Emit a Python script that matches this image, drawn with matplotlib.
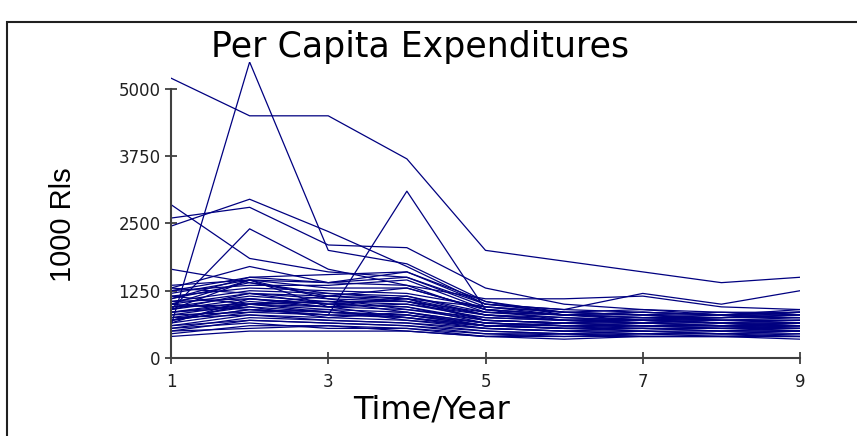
import matplotlib
matplotlib.use("Agg")
import matplotlib.pyplot as plt
from matplotlib.patches import Rectangle

years = [1, 2, 3, 4, 5, 6, 7, 8, 9]
y_ticks = [0, 1250, 2500, 3750, 5000]
x_ticks = [1, 3, 5, 7, 9]

# the few regions that stand out above the crowd
high_series = [
    [5200, 4500, 4500, 3700, 2000, 1800, 1600, 1400, 1500],
    [600, 5500, 2000, 1750, 1050, 800, 700, 650, 600],
    [700, 900, 800, 3100, 900, 700, 650, 600, 550],
    [2600, 2800, 2100, 2050, 1300, 1000, 900, 800, 750],
    [2450, 2950, 2350, 1700, 1000, 850, 800, 700, 650],
    [2850, 1850, 1600, 1500, 950, 800, 750, 700, 700],
    [900, 2400, 1650, 1350, 850, 750, 700, 650, 600],
    [1650, 1400, 1150, 1050, 700, 650, 600, 550, 500],
    [1300, 1700, 1400, 1600, 1000, 900, 1200, 1000, 1250],
    [1100, 1500, 1400, 1350, 1100, 1100, 1150, 950, 900],
]

# the dense band underneath
band_series = [
    [1350, 1450, 1400, 1500, 1000, 900, 850, 800, 850],
    [1250, 1500, 1550, 1600, 1050, 850, 800, 750, 800],
    [1200, 1450, 1300, 1300, 900, 800, 850, 800, 900],
    [1100, 1400, 1200, 1100, 800, 750, 700, 700, 750],
    [1050, 1250, 1200, 1150, 850, 800, 750, 750, 850],
    [1000, 1200, 1100, 1050, 800, 700, 750, 700, 700],
    [950, 1150, 1050, 1000, 750, 700, 650, 650, 700],
    [900, 1100, 1000, 950, 700, 650, 700, 650, 650],
    [850, 1050, 950, 900, 700, 650, 600, 600, 650],
    [800, 1000, 900, 850, 650, 600, 600, 600, 600],
    [750, 950, 850, 800, 650, 600, 550, 550, 600],
    [700, 900, 800, 800, 600, 550, 550, 500, 550],
    [650, 850, 800, 750, 600, 550, 500, 500, 500],
    [600, 800, 750, 700, 550, 500, 500, 450, 500],
    [550, 750, 700, 650, 550, 500, 450, 450, 450],
    [500, 700, 650, 600, 500, 450, 450, 400, 450],
    [450, 600, 600, 550, 450, 450, 400, 400, 400],
    [400, 500, 500, 500, 400, 400, 400, 400, 350],
    [1000, 900, 850, 800, 600, 650, 700, 750, 800],
    [950, 1000, 1150, 1100, 950, 850, 900, 850, 800],
    [1150, 1300, 1250, 1200, 950, 850, 800, 850, 850],
    [850, 1000, 1050, 1050, 850, 800, 750, 800, 850],
    [700, 1000, 950, 1000, 800, 700, 700, 750, 750],
    [1000, 1450, 1100, 900, 750, 700, 700, 650, 650],
    [900, 1450, 950, 1150, 800, 700, 650, 700, 700],
    [650, 1100, 1000, 1100, 700, 650, 650, 600, 650],
    [800, 850, 900, 700, 600, 550, 550, 550, 550],
    [1050, 1100, 950, 750, 550, 500, 550, 500, 500],
    [600, 700, 650, 600, 450, 400, 450, 450, 400],
    [750, 800, 700, 650, 500, 450, 500, 450, 500],
    [1300, 1200, 1000, 950, 650, 600, 600, 600, 600],
    [1150, 1000, 1050, 850, 650, 600, 650, 600, 650],
    [550, 650, 550, 550, 400, 350, 400, 400, 400],
    [1250, 1350, 1350, 1450, 900, 800, 800, 800, 850],
    [900, 1200, 1150, 1300, 900, 800, 850, 800, 800],
    [700, 1000, 850, 750, 600, 600, 600, 600, 550],
    [500, 550, 600, 500, 400, 450, 400, 400, 400],
    [850, 950, 750, 850, 600, 550, 600, 550, 600],
]

wide = ["DejaVu Sans"]
sans = ["Liberation Sans", "DejaVu Sans"]
line_col = "#000080"
axis_col = "#404040"

fig = plt.figure(figsize=(8.57, 4.36), dpi=100)
ax = fig.add_axes([171 / 857, 1 - 358 / 436, 629 / 857, 296 / 436])

for row in high_series + band_series:
    ax.plot(years, row, color=line_col, lw=0.9)

ax.set_xlim(1, 9)
ax.set_ylim(0, 5500)
ax.set_xticks(x_ticks)
ax.set_yticks(y_ticks)
ax.set_xticklabels([str(t) for t in x_ticks], family=wide, fontsize=12)
ax.set_yticklabels([str(t) for t in y_ticks], family=wide, fontsize=12)
ax.tick_params(direction="inout", length=9, width=1.3, colors=axis_col,
               labelcolor="#202020", pad=3)
ax.tick_params(axis="x", pad=6)

for side in ["top", "right"]:
    ax.spines[side].set_visible(False)
for side in ["left", "bottom"]:
    ax.spines[side].set_color(axis_col)
    ax.spines[side].set_linewidth(1.5)
ax.spines["left"].set_bounds(0, 5000)

fig.text(420 / 857, 1 - 47 / 436, "Per Capita Expenditures", ha="center", va="center",
         family=wide, fontsize=25)
fig.text(63 / 857, 1 - 225 / 436, "1000 Rls", ha="center", va="center", rotation=90,
         family=sans, fontsize=21)
fig.text(432 / 857, 1 - 410 / 436, "Time/Year", ha="center", va="center",
         family=wide, fontsize=23)

# frame round the chart area
fig.add_artist(Rectangle((7 / 857, -0.1), 1.2, 1 - 22 / 436 + 0.1, transform=fig.transFigure,
                         fill=False, edgecolor="#202020", lw=1.5))

fig.savefig("out.png", dpi=100)
